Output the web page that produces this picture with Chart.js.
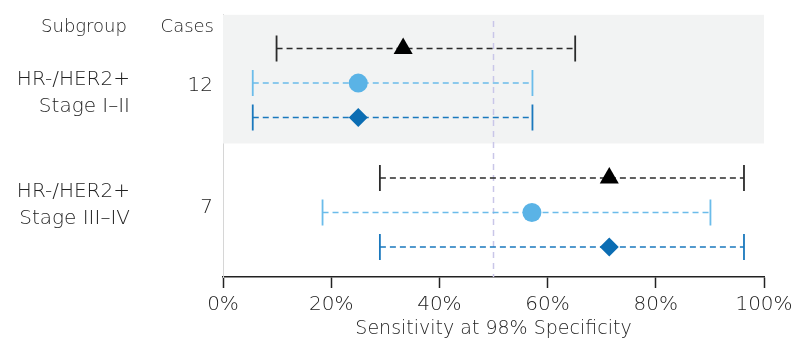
<!DOCTYPE html>
<html lang="en">
  <head>
    <meta charset="UTF-8" />
    <title>Sensitivity by subgroup</title>
    <script src="https://cdn.jsdelivr.net/npm/chart.js"></script>
    <style>
      body { margin: 0; background: #fff; }
    </style>
  </head>
  <body>
    <canvas id="forest" width="794" height="344"></canvas>
    <script>
      // values (percent)
      const subgroups = [["HR-/HER2+", "Stage I–II"], ["HR-/HER2+", "Stage III–IV"]];
      const cases = [12, 7];
      const triangleEst = [33.3, 71.4];
      const triangleLow = [9.9, 29.0];
      const triangleHigh = [65.1, 96.3];
      const circleEst = [25.0, 57.1];
      const circleLow = [5.5, 18.4];
      const circleHigh = [57.2, 90.1];
      const diamondEst = [25.0, 71.4];
      const diamondLow = [5.5, 29.0];
      const diamondHigh = [57.2, 96.3];
      const xTicks = [0, 20, 40, 60, 80, 100];
      const refValue = 50;

      const FONT = "'DejaVu Sans', sans-serif";
      const TEXT = "#222222";

      // row position inside the y scale: 3 rows per group
      const GROUP_STEP = 3.75;
      function rowY(g, r) {
        return g * GROUP_STEP + 1 + r;
      }

      const series = [
        { est: triangleEst, lo: triangleLow, hi: triangleHigh, style: "triangle", radius: 11, color: "#000000", line: "#2b2b2b" },
        { est: circleEst, lo: circleLow, hi: circleHigh, style: "circle", radius: 9.5, color: "#5ab3e6", line: "#6bbcea" },
        { est: diamondEst, lo: diamondLow, hi: diamondHigh, style: "rectRot", radius: 9.5, color: "#0b6db3", line: "#1a78bd" },
      ];

      const datasets = [];
      series.forEach((s, r) => {
        // markers
        datasets.push({
          type: "scatter",
          data: s.est.map((v, g) => ({ x: v, y: rowY(g, r) })),
          pointStyle: s.style,
          pointRadius: s.radius,
          pointHoverRadius: s.radius,
          backgroundColor: s.color,
          borderColor: s.color,
          borderWidth: 0,
          order: 0,
        });
        // whiskers, one dataset per interval
        s.est.forEach((v, g) => {
          datasets.push({
            type: "line",
            data: [
              { x: s.lo[g], y: rowY(g, r) },
              { x: s.hi[g], y: rowY(g, r) },
            ],
            borderColor: s.line,
            borderWidth: 1.5,
            borderDash: [6, 4],
            pointStyle: "line",
            rotation: 90,
            pointRadius: 13,
            pointHoverRadius: 13,
            pointBorderWidth: 1.8,
            pointBorderColor: s.line,
            order: 1,
          });
        });
      });
      // 50% reference line
      datasets.push({
        type: "line",
        data: [
          { x: refValue, y: 0.2 },
          { x: refValue, y: 7.62 },
        ],
        borderColor: "#c9c6e8",
        borderWidth: 1.5,
        borderDash: [6, 5],
        pointRadius: 0,
        order: 2,
      });

      const panelShade = {
        id: "panelShade",
        beforeDatasetsDraw(chart) {
          const { ctx, chartArea, scales } = chart;
          const y0 = scales.y.getPixelForValue(scales.y.min);
          const y1 = scales.y.getPixelForValue(GROUP_STEP);
          ctx.save();
          ctx.fillStyle = "#f2f3f3";
          ctx.fillRect(chartArea.left, y0, chartArea.right - chartArea.left, y1 - y0);
          ctx.restore();
        },
      };

      const sideLabels = {
        id: "sideLabels",
        afterDraw(chart) {
          const { ctx, scales } = chart;
          const y = scales.y;
          ctx.save();
          ctx.fillStyle = TEXT;
          ctx.textBaseline = "middle";
          ctx.font = "200 18px " + FONT;
          ctx.textAlign = "center";
          ctx.fillText("Subgroup", 84, y.getPixelForValue(0.38));
          ctx.textAlign = "right";
          ctx.fillText("Cases", 214, y.getPixelForValue(0.38));

          const labelMid = [2.3, 5.55];
          const caseMid = [2.09, 5.62];
          ctx.font = "200 20px " + FONT;
          subgroups.forEach((lines, g) => {
            const cy = y.getPixelForValue(labelMid[g]);
            ctx.textAlign = "right";
            ctx.fillText(lines[0], 130, cy - 13.5);
            ctx.fillText(lines[1], 130, cy + 13.5);
            ctx.fillText(String(cases[g]), 213, y.getPixelForValue(caseMid[g]));
          });
          ctx.restore();
        },
      };

      new Chart(document.getElementById("forest").getContext("2d"), {
        data: { datasets: datasets },
        options: {
          responsive: false,
          animation: false,
          events: [],
          layout: { padding: { left: 223, right: 30, top: 14, bottom: 5 } },
          plugins: { legend: { display: false }, tooltip: { enabled: false } },
          scales: {
            x: {
              type: "linear",
              min: 0,
              max: 100,
              afterBuildTicks: (axis) => {
                axis.ticks = xTicks.map((v) => ({ value: v }));
              },
              afterFit: (axis) => {
                axis.paddingLeft = 0;
                axis.paddingRight = 0;
              },
              ticks: {
                callback: (v) => v + "%",
                color: TEXT,
                font: { family: FONT, size: 20, weight: 200 },
                padding: 5,
                maxRotation: 0,
              },
              grid: {
                drawOnChartArea: false,
                drawTicks: true,
                tickLength: 11,
                tickWidth: 1.5,
                color: "#222",
              },
              border: { display: true, color: "#222", width: 1.5 },
              title: {
                display: true,
                text: "Sensitivity at 98% Specificity",
                color: TEXT,
                font: { family: FONT, size: 19, weight: 200, lineHeight: 1.0 },
                padding: { top: -2, bottom: 0 },
              },
            },
            y: {
              type: "linear",
              min: 0.02,
              max: 7.62,
              reverse: true,
              ticks: { display: false },
              grid: { display: false, drawTicks: false },
              border: { display: true, color: "#d6d6d6", width: 1 },
            },
          },
        },
        plugins: [panelShade, sideLabels],
      });
    </script>
  </body>
</html>
